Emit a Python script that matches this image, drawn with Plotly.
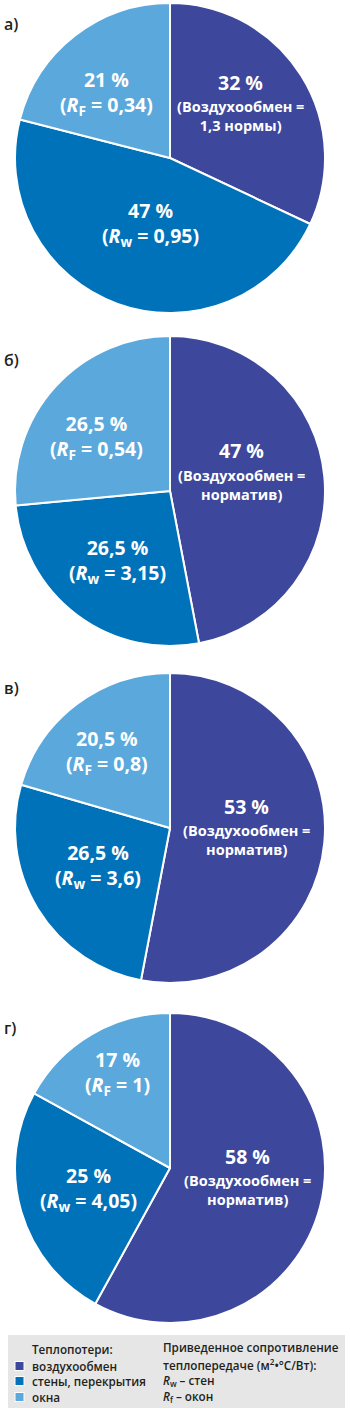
import plotly.graph_objects as go

W, H = 350, 1414

# ---- data ----
panel_letters = ["а)", "б)", "в)", "г)"]
categories = ["воздухообмен", "стены, перекрытия", "окна"]
share_a = [32, 47, 21]
share_b = [47, 26.5, 26.5]
share_c = [53, 26.5, 20.5]
share_d = [58, 25, 17]
shares = [share_a, share_b, share_c, share_d]
r_walls = ["0,95", "3,15", "3,6", "4,05"]
r_windows = ["0,34", "0,54", "0,8", "1"]
air_notes = ["1,3 нормы)", "норматив)", "норматив)", "норматив)"]
legend_title = "Теплопотери:"
resist_lines = ["Приведенное сопротивление", "теплопередаче (м<sup>2</sup>•°C/Вт):",
                "<i>R</i><sub>w</sub> – стен", "<i>R</i><sub>f</sub> – окон"]

# ---- style / layout ----
colors = ["#3D479B", "#0072BA", "#5BA8DC"]
FONT = "Open Sans"
TXT = "#231F20"
pie_tops = [3, 336, 673, 1013]
PIE = 310
PIE_LEFT = 15
title_dy = [21, 24, 15, 15]
# label offsets (px from pie centre) of first line for [air, walls, windows]
label_off = [
    [(70, -76), (-20, 53), (-64, -78)],
    [(71, -40), (-53, 57), (-74, -67)],
    [(76, -22), (-72, 25), (-63, -89)],
    [(77, -12), (-82, 8), (-53, -108)],
]


def px(x):
    return x / W


def py(y):
    return 1 - y / H


def fmt(v):
    return f"{v:g}".replace(".", ",") + " %"


fig = go.Figure()
ann = []
for i, vals in enumerate(shares):
    top = pie_tops[i]
    fig.add_trace(go.Pie(
        labels=categories, values=vals, sort=False, direction="clockwise",
        rotation=0, textinfo="none", hoverinfo="skip", showlegend=False,
        marker=dict(colors=colors, line=dict(color="white", width=2)),
        domain=dict(x=[px(PIE_LEFT), px(PIE_LEFT + PIE)], y=[py(top + PIE), py(top)]),
    ))
    cx, cy = PIE_LEFT + PIE / 2, top + PIE / 2
    ann.append(dict(x=px(2), y=py(top + title_dy[i]), xanchor="left", yanchor="middle",
                    text=panel_letters[i], font=dict(size=16, color=TXT, family=FONT, weight=600)))
    big = dict(size=19.5, color="white", family=FONT, weight=700)
    small = dict(size=14.5, color="white", family=FONT, weight=700)
    # air exchange
    dx, dy = label_off[i][0]
    ann.append(dict(x=px(cx + dx), y=py(cy + dy), text=fmt(vals[0]), font=big))
    ann.append(dict(x=px(cx + dx), y=py(cy + dy + 34),
                    text="(Воздухообмен =<br>" + air_notes[i], font=small))
    # walls (two lines, centre halfway)
    dx, dy = label_off[i][1]
    ann.append(dict(x=px(cx + dx), y=py(cy + dy + 13),
                    text=f"{fmt(vals[1])}<br>(<i>R</i><sub>w</sub> = {r_walls[i]})", font=big))
    # windows
    dx, dy = label_off[i][2]
    ann.append(dict(x=px(cx + dx), y=py(cy + dy + 13),
                    text=f"{fmt(vals[2])}<br>(<i>R</i><sub>F</sub> = {r_windows[i]})", font=big))

for a in ann:
    a.setdefault("xanchor", "center")
    a.setdefault("yanchor", "middle")
    a["xref"] = "paper"
    a["yref"] = "paper"
    a["showarrow"] = False

# legend box
shapes = [dict(type="rect", xref="paper", yref="paper", x0=px(8), x1=px(345),
               y0=py(1408), y1=py(1335), fillcolor="#E6E6E6", line=dict(width=0), layer="below")]
leg_font = dict(size=11.7, color=TXT, family=FONT, weight=600)
ann.append(dict(x=px(30), y=py(1349), text=legend_title, xanchor="left", yanchor="middle",
                xref="paper", yref="paper", showarrow=False, font=leg_font))
leg_y = [1366, 1381, 1397]
for k, name in enumerate(categories):
    y = leg_y[k]
    shapes.append(dict(type="rect", xref="paper", yref="paper", x0=px(15), x1=px(24),
                       y0=py(y + 4.5), y1=py(y - 4.5), fillcolor=colors[k],
                       line=dict(color="white", width=1)))
    ann.append(dict(x=px(30), y=py(y), text=name, xanchor="left", yanchor="middle",
                    xref="paper", yref="paper", showarrow=False, font=leg_font))
res_y = [1347, 1364, 1380, 1396]
for k, t in enumerate(resist_lines):
    ann.append(dict(x=px(161), y=py(res_y[k]), text=t, xanchor="left", yanchor="middle",
                    xref="paper", yref="paper", showarrow=False, font=leg_font))

fig.update_layout(width=W, height=H, margin=dict(l=0, r=0, t=0, b=0),
                  paper_bgcolor="white", plot_bgcolor="white",
                  annotations=ann, shapes=shapes, font=dict(family=FONT))
fig.write_html("out.html")
